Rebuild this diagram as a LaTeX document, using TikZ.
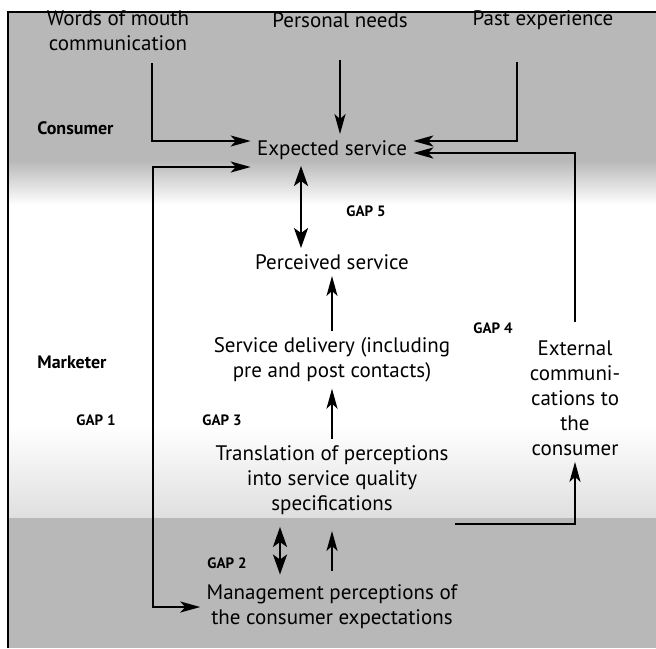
\documentclass[tikz,border=0pt]{standalone}
\usepackage{fontspec}
\setmainfont{PT Sans}
\usetikzlibrary{arrows.meta}
\colorlet{bandgray}{black!28}

\begin{document}
\begin{tikzpicture}[x=0.5pt,y=-0.5pt,
  box/.style={align=center,inner sep=3pt,font=\fontsize{10.5}{12.5}\selectfont},
  side/.style={anchor=west,inner sep=0pt,font=\fontsize{9}{11}\selectfont\bfseries},
  gap/.style={inner sep=0pt,font=\fontsize{7.5}{9}\selectfont\bfseries},
  arr/.style={line width=1pt,-{Stealth[length=10pt,width=5.5pt,inset=2.5pt]}},
  darr/.style={line width=1.3pt,{Stealth[length=10pt,width=7pt,inset=2.5pt]}-{Stealth[length=10pt,width=7pt,inset=2.5pt]}},
  loop2/.style={line width=1pt,{Stealth[length=10pt,width=5.5pt,inset=2.5pt]}-{Stealth[length=10pt,width=5.5pt,inset=2.5pt]}}]
\useasboundingbox (0,0) rectangle (656,648);

% background bands
\fill[bandgray] (8,12) rectangle (656,160);
\shade[top color=bandgray,bottom color=white] (8,160) rectangle (656,205);
\shade[top color=white,bottom color=bandgray!45] (8,425) rectangle (656,518);
\fill[bandgray] (8,518) rectangle (656,648);
\draw[line width=1pt] (8,648) -- (8,12) -- (656,12);

% consumer side
\node[box] (wom) at (118,31) {Words of mouth\\communication};
\node[box] (needs) at (340,20) {Personal needs};
\node[box] (past) at (543,20) {Past experience};
\node[side] (cons) at (37,128) {Consumer};
\node[box] (exp) at (332,150) {Expected service};

% marketer side
\node[side] (mkt) at (37,362) {Marketer};
\node[box] (perc) at (332,262) {Perceived service};
\node[box] (deliv) at (332,360) {Service delivery (including\\pre and post contacts)};
\node[box] (trans) at (332,480) {Translation of perceptions\\into service quality\\specifications};
\node[box] (mgmt) at (332,607) {Management perceptions of\\the consumer expectations};
\node[box] (ext) at (575,398) {External\\communi-\\cations to\\the\\consumer};

% gaps
\node[gap] (g5) at (366,211) {GAP 5};
\node[gap] (g4) at (493,328) {GAP 4};
\node[gap] (g1) at (96,420) {GAP 1};
\node[gap] (g3) at (222,420) {GAP 3};
\node[gap] (g2) at (227,563) {GAP 2};

% connectors
\draw[arr] ([xshift=17pt,yshift=-3pt]wom.south) |- ([yshift=4.5pt]exp.west);
\draw[arr] ([yshift=-13pt]needs.south) -- (needs.south |- exp.north);
\draw[arr] ([xshift=-13pt,yshift=-13pt]past.south) |- ([yshift=4.5pt]exp.east);
\draw[arr] ([yshift=6pt]ext.north) |- ([yshift=-1.5pt]exp.east);
\draw[loop2] ([yshift=-8.5pt]exp.west) -- ++(-49pt,0) |- (mgmt.west);
\draw[darr] ([xshift=-15.5pt]exp.south) -- ([xshift=-15.5pt]perc.north);
\draw[arr] (deliv.north) -- (perc.south);
\draw[arr] (trans.north) -- (deliv.south);
\draw[arr] ([yshift=-22pt]trans.east) -| (ext.south);
\draw[arr,shorten <=4pt,shorten >=5pt] (mgmt.north) -- (trans.south);
\draw[darr,shorten >=2pt,shorten <=3pt] ([xshift=-26pt]trans.south) -- ([xshift=-26pt]mgmt.north);

\end{tikzpicture}
\end{document}
